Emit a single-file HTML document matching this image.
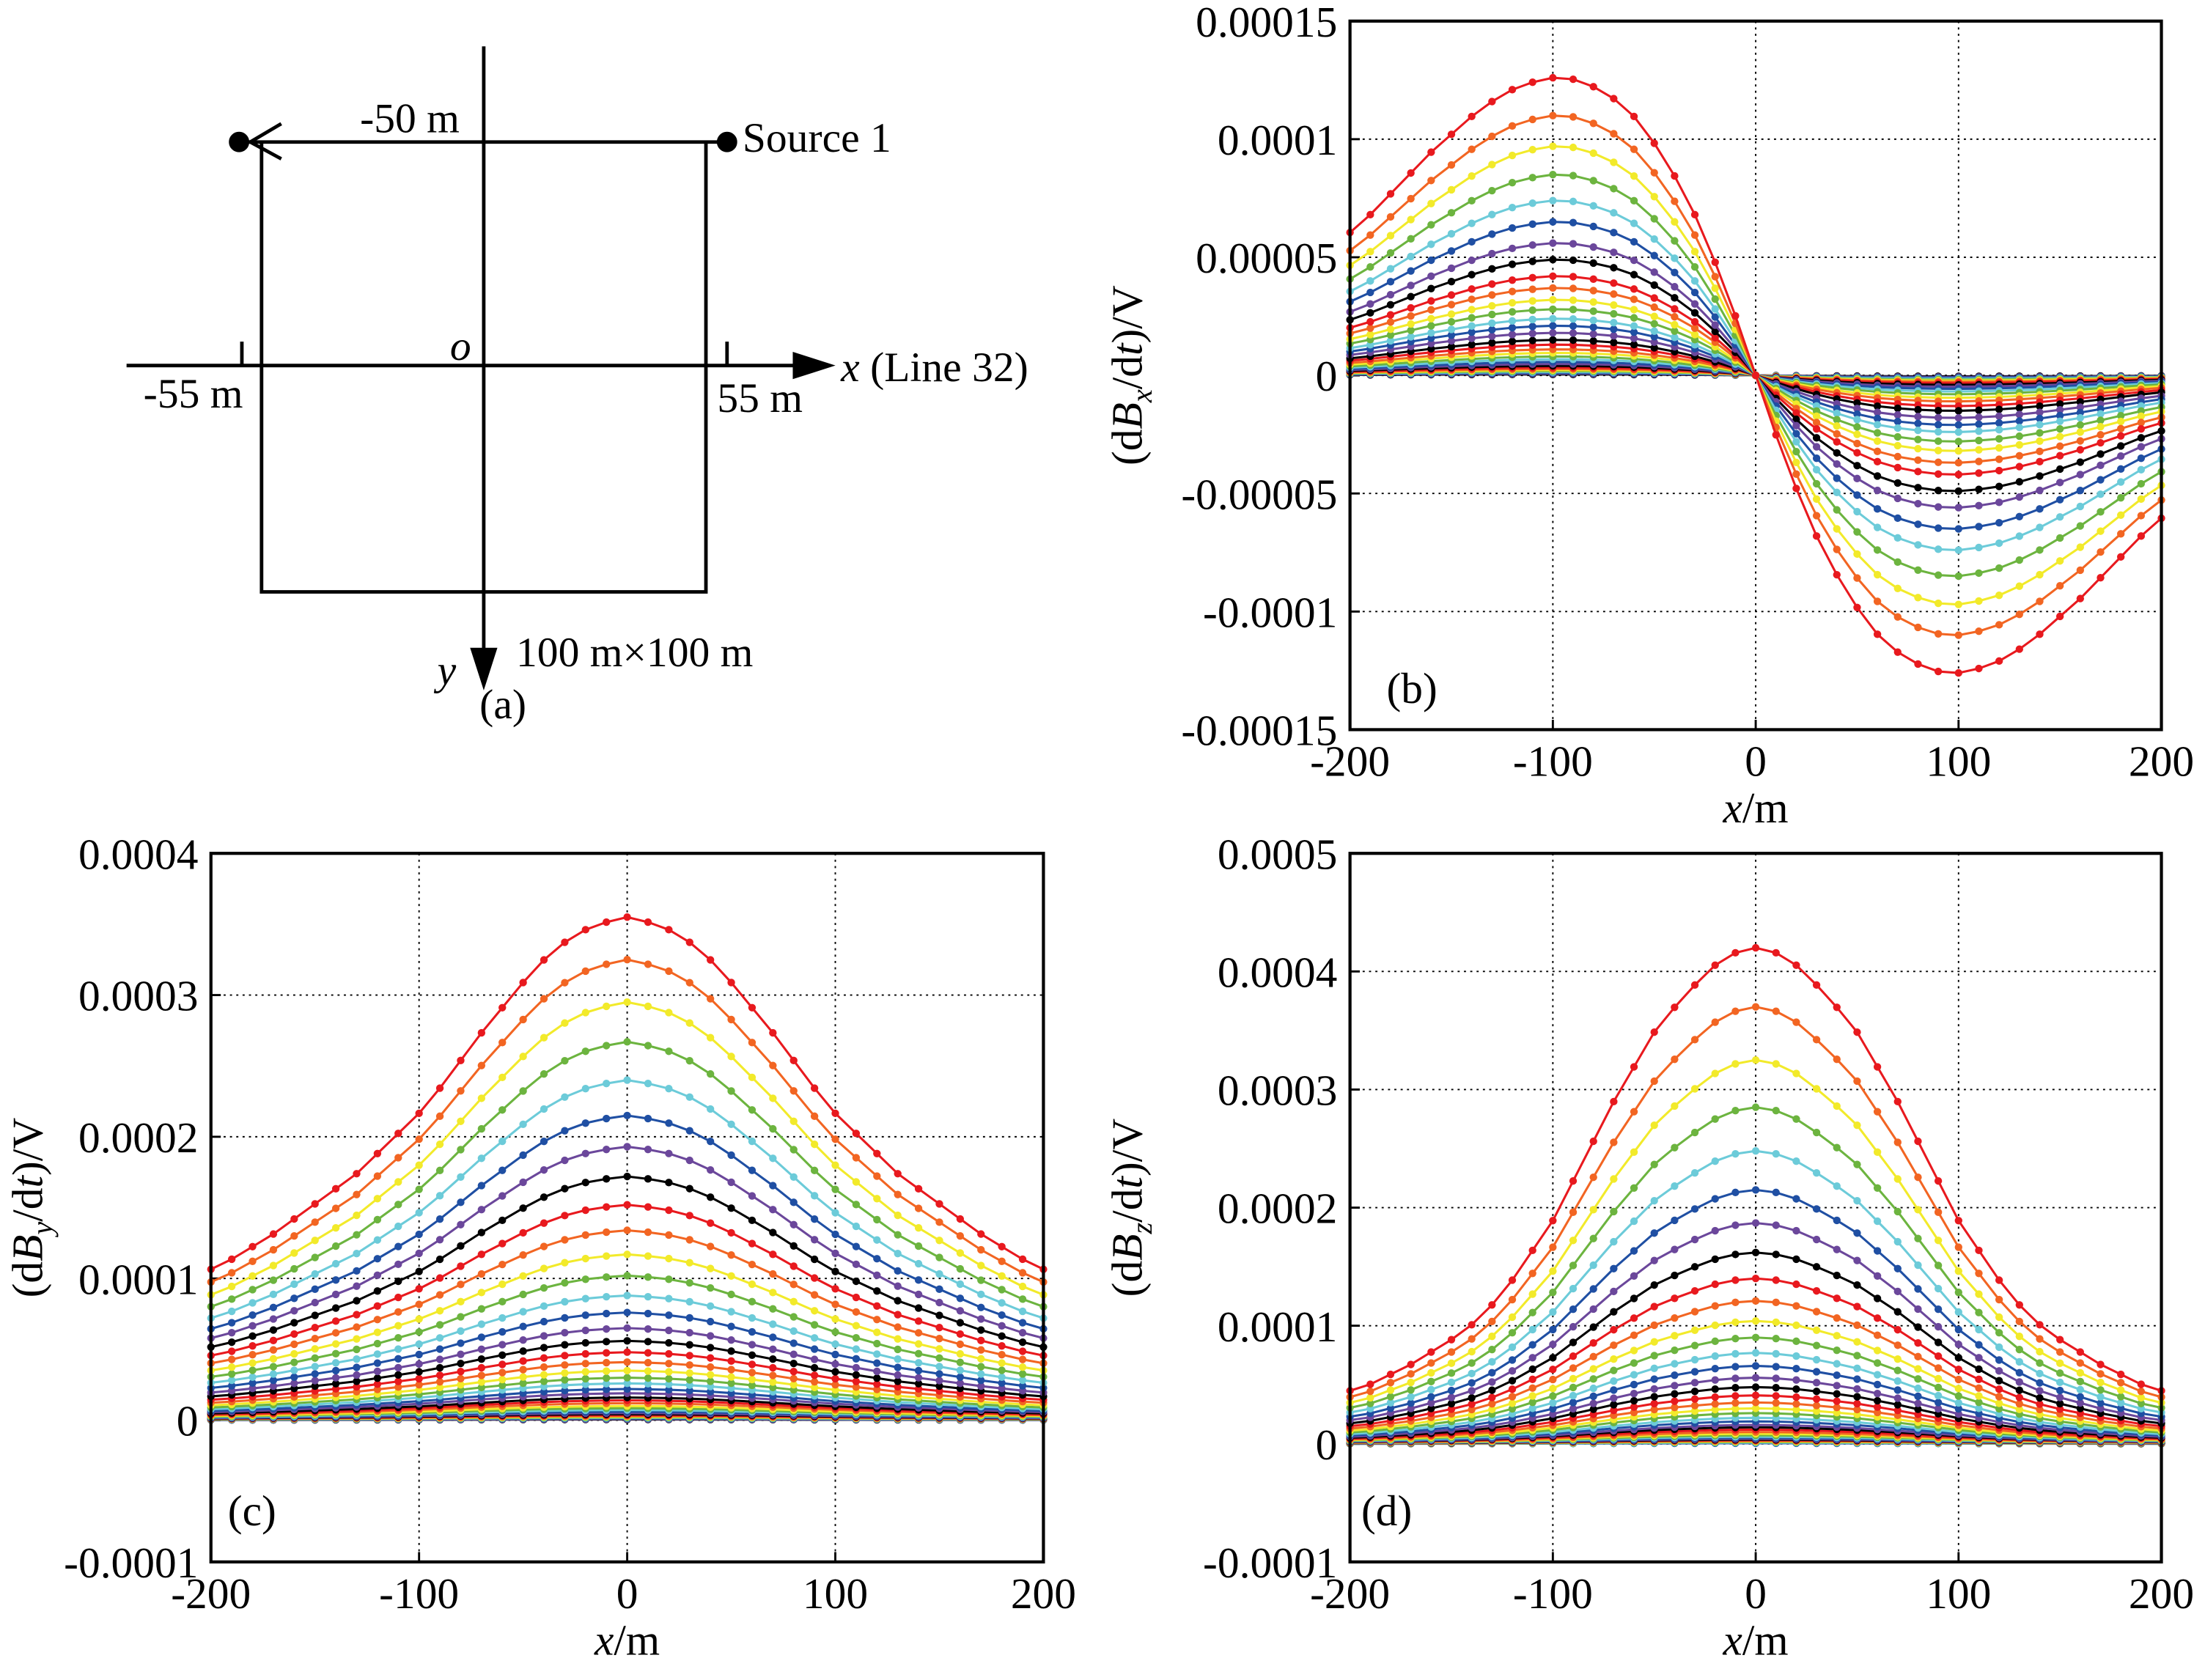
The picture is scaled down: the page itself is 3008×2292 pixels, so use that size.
<!DOCTYPE html>
<html><head><meta charset="utf-8">
<style>
html,body{margin:0;padding:0;background:#fff;}
svg{display:block;}
text{font-family:"Liberation Serif",serif;fill:#000;}
</style></head>
<body>
<svg id="fig" xmlns="http://www.w3.org/2000/svg" width="3008" height="2292" viewBox="0 0 1568 1195" preserveAspectRatio="none">
<rect x="0" y="0" width="1568" height="1195" fill="#fff"/>
<g id="panel-a" stroke="#000" stroke-width="2.5" fill="none">
  <line x1="344" y1="33" x2="344" y2="465"/>
  <polygon points="336,462 352,462 344,487" fill="#000"/>
  <line x1="90" y1="260" x2="568" y2="260"/>
  <polygon points="565,252 565,268 590,260" fill="#000"/>
  <line x1="170" y1="101" x2="517" y2="101"/>
  <polyline points="186,101 186,421 502,421 502,101"/>
  <line x1="172" y1="243" x2="172" y2="260"/>
  <line x1="517" y1="243" x2="517" y2="260"/>
  <line x1="178" y1="101" x2="200" y2="88"/>
  <line x1="178" y1="101" x2="200" y2="113"/>
  <circle cx="170" cy="101" r="6" fill="#000"/>
  <circle cx="517" cy="101" r="6" fill="#000"/>
</g>
<g font-size="30">
  <text x="256" y="94">-50 m</text>
  <text x="528" y="108">Source 1</text>
  <text x="320" y="256" font-style="italic">o</text>
  <text x="102" y="290">-55 m</text>
  <text x="510" y="293">55 m</text>
  <text x="598" y="271"><tspan font-style="italic">x</tspan> (Line 32)</text>
  <text x="311" y="487" font-style="italic">y</text>
  <text x="367" y="474">100 m×100 m</text>
  <text x="341" y="511">(a)</text>
</g>
</svg>
<script>
// shared x positions (m)
const xs = [];
for (let v = -200; v <= 200; v += 10) xs.push(v);
const colors = ['#e8191e','#f26522','#f2ea2a','#6cb43f','#6ccbd9','#1f4fa3','#6b479b','#000000'];

// Panel b
const peaksB = [0.000126,0.00011,0.000097,0.000085,0.000074,0.000065,0.000056,0.000049,0.000042,0.000037,0.000032,0.000028,0.000024,0.000021,0.000018,0.000015,0.000013,0.000011,0.0000095,0.000008,0.0000068,0.0000057,0.0000048,0.000004,0.0000033,0.0000027,0.0000022,0.0000018,0.0000014,0.000001,0.0000007,0.0000004];
const shapeB = [0,0.2,0.38,0.54,0.67,0.78,0.87,0.93,0.97,0.995,1.0,0.985,0.96,0.92,0.87,0.81,0.75,0.68,0.61,0.54,0.48];
const ticksBy = [0.00015,0.0001,0.00005,0,-0.00005,-0.0001,-0.00015];
const tickLabelsBy = ['0.00015','0.0001','0.00005','0','-0.00005','-0.0001','-0.00015'];
// Panel c
const peaksC = [0.000355,0.000325,0.000295,0.000267,0.00024,0.000215,0.000193,0.000172,0.000152,0.000134,0.000117,0.000102,0.000088,0.000076,0.000065,0.000056,0.000048,0.000041,0.000035,0.00003,0.000026,0.000022,0.000019,0.000016,0.000014,0.000012,0.00001,0.0000085,0.0000072,0.000006,0.000005,0.0000042,0.0000035,0.000003,0.0000025,0.000002,0.0000016,0.0000012,0.0000008,0.0000005];
const shapeC = [1,0.99,0.975,0.95,0.915,0.87,0.82,0.77,0.715,0.66,0.61,0.57,0.53,0.49,0.46,0.43,0.4,0.37,0.345,0.32,0.3];
const ticksCy = [0.0004,0.0003,0.0002,0.0001,0,-0.0001];
const tickLabelsCy = ['0.0004','0.0003','0.0002','0.0001','0','-0.0001'];
// Panel d
const peaksD = [0.00042,0.00037,0.000325,0.000285,0.000248,0.000215,0.000187,0.000162,0.00014,0.000121,0.000104,0.00009,0.000077,0.000066,0.000056,0.000048,0.000041,0.000035,0.00003,0.000026,0.000022,0.000019,0.000016,0.000014,0.000012,0.00001,0.0000085,0.0000072,0.000006,0.000005,0.0000042,0.0000035,0.000003,0.0000025,0.000002,0.0000015,0.000001,0.0000005];
const shapeD = [1,0.99,0.965,0.925,0.88,0.83,0.76,0.69,0.61,0.53,0.45,0.39,0.33,0.28,0.24,0.21,0.185,0.16,0.14,0.12,0.107];
const ticksDy = [0.0005,0.0004,0.0003,0.0002,0.0001,0,-0.0001];
const tickLabelsDy = ['0.0005','0.0004','0.0003','0.0002','0.0001','0','-0.0001'];
const ticksX = [-200,-100,0,100,200];
const tickLabelsX = ['-200','-100','0','100','200'];

const NS = 'http://www.w3.org/2000/svg';
const svg = document.getElementById('fig');
const FS = 31;
function mk(tag, attrs, parent) {
  const e = document.createElementNS(NS, tag);
  for (const k in attrs) e.setAttribute(k, attrs[k]);
  (parent || svg).appendChild(e);
  return e;
}

function panel(id, box, ymin, ymax, ticksY, labelsY, peaks, valueFn, ylabelSub, ylabelX, letter, letterPos) {
  const g = mk('g', {});
  
  
  const X = v => box.x0 + (v + 200) / 400 * (box.x1 - box.x0);
  const Y = v => box.y1 - (v - ymin) / (ymax - ymin) * (box.y1 - box.y0);
  ticksX.forEach((t, i) => {
    if (i > 0 && i < ticksX.length - 1) {
      const l = mk('line', {x1: X(t), x2: X(t), y1: box.y0, y2: box.y1, stroke: '#000', 'stroke-width': 1, 'stroke-dasharray': '1.5,3'}, g);
      
      
    }
    const tk = mk('line', {x1: X(t), x2: X(t), y1: box.y1, y2: box.y1 - 7, stroke: '#000', 'stroke-width': 1.5}, g);
    
    
    const tx = mk('text', {x: X(t), y: box.y1 + 33, 'text-anchor': 'middle', 'font-size': FS}, g);
    tx.textContent = tickLabelsX[i];
    
    
  });
  ticksY.forEach((t, i) => {
    if (i > 0 && i < ticksY.length - 1) {
      const l = mk('line', {x1: box.x0, x2: box.x1, y1: Y(t), y2: Y(t), stroke: '#000', 'stroke-width': 1, 'stroke-dasharray': '1.5,3'}, g);
      
      
    }
    const tk = mk('line', {x1: box.x0, x2: box.x0 + 7, y1: Y(t), y2: Y(t), stroke: '#000', 'stroke-width': 1.5}, g);
    
    
    const tx = mk('text', {x: box.x0 - 9, y: Y(t) + 11, 'text-anchor': 'end', 'font-size': FS}, g);
    tx.textContent = labelsY[i];
    
    
  });
  for (let c = peaks.length - 1; c >= 0; c--) {
    const col = colors[c % colors.length];
    const sg = mk('g', {}, g);
    
    
    const pts = xs.map((x, i) => [X(x), Y(valueFn(peaks[c], i))]);
    const pl = mk('polyline', {points: pts.map(p => p[0].toFixed(2) + ',' + p[1].toFixed(2)).join(' '), fill: 'none', stroke: col, 'stroke-width': 1.6}, sg);
    
    
    pts.forEach(p => {
      const m = mk('circle', {cx: p[0], cy: p[1], r: 2.7, fill: col}, sg);
      
      
    });
  }
  const fr = mk('rect', {x: box.x0, y: box.y0, width: box.x1 - box.x0, height: box.y1 - box.y0, fill: 'none', stroke: '#000', 'stroke-width': 2.2}, g);
  
  
  const xl = mk('text', {x: (box.x0 + box.x1) / 2, y: box.y1 + 66, 'text-anchor': 'middle', 'font-size': FS}, g);
  xl.innerHTML = '<tspan font-style="italic">x</tspan>/m';
  
  
  const yc = (box.y0 + box.y1) / 2;
  const yl = mk('text', {x: ylabelX, y: yc, 'text-anchor': 'middle', 'font-size': FS, transform: 'rotate(-90 ' + ylabelX + ' ' + yc + ')'}, g);
  yl.innerHTML = '(d<tspan font-style="italic">B</tspan><tspan font-style="italic" font-size="21" dy="7">' + ylabelSub + '</tspan><tspan dy="-7">/d</tspan><tspan font-style="italic">t</tspan>)/V';
  
  
  const lt = mk('text', {x: letterPos[0], y: letterPos[1], 'font-size': FS}, g);
  lt.textContent = letter;
  
  
}

const symIdx = i => Math.abs(i - 20);
panel('panel-b-dbx', {x0: 960, x1: 1537, y0: 15, y1: 519}, -0.00015, 0.00015, ticksBy, tickLabelsBy, peaksB,
  (p, i) => (i < 20 ? 1 : -1) * p * shapeB[symIdx(i)], 'x', 812, '(b)', [986, 500]);
panel('panel-c-dby', {x0: 150, x1: 742, y0: 607, y1: 1111}, -0.0001, 0.0004, ticksCy, tickLabelsCy, peaksC,
  (p, i) => p * shapeC[symIdx(i)], 'y', 30, '(c)', [162, 1085]);
panel('panel-d-dbz', {x0: 960, x1: 1537, y0: 607, y1: 1111}, -0.0001, 0.0005, ticksDy, tickLabelsDy, peaksD,
  (p, i) => p * shapeD[symIdx(i)], 'z', 812, '(d)', [968, 1085]);
</script>
</body></html>
